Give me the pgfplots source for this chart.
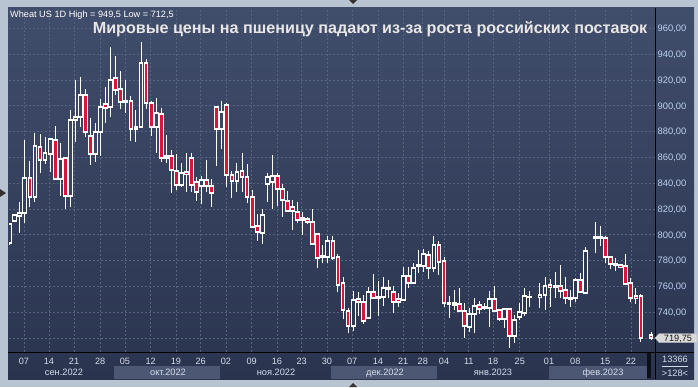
\documentclass[border=0pt]{standalone}
\usepackage{pgfplots}
\pgfplotsset{compat=1.18}
\usepackage{pgfplotstable}
\usepackage{fontspec}
\setmainfont{Liberation Sans}
\definecolor{framec}{HTML}{B9C4D3}
\definecolor{bgtop}{HTML}{404D6B}
\definecolor{bgbot}{HTML}{2A344F}
\definecolor{bandc}{HTML}{4B5773}
\definecolor{gridc}{HTML}{56647F}
\definecolor{candred}{HTML}{DC143C}
\definecolor{holA}{HTML}{3A4663}
\definecolor{holB}{HTML}{35405D}
\definecolor{holC}{HTML}{2D3853}
\definecolor{labc}{HTML}{D4DCEC}
\definecolor{ylabc}{HTML}{BCD0F0}
\definecolor{titlec}{HTML}{E8E6E6}
\pgfplotstableread{
x o h l c
0 793.4 809 792 808
1 810.9 815.5 810.5 815.1
2 814.3 825.2 801.6 816.9
3 817.1 873.5 808.9 843.8
4 843.8 857.2 821.3 829.1
5 829.1 879.2 825.7 868.6
6 867.8 877.9 848.2 857.8
7 857.8 876 855 863.2
8 862.4 874.8 848.9 874
9 873.3 884.3 843 843
10 843 870.9 830.3 858.5
11 859.5 860.5 819.8 829.8
12 829.8 896.7 821.3 889
13 889.2 920 872.2 891.1
14 891.1 922.6 883.8 908.4
15 908.4 913 875.6 879.4
16 876.6 890.3 854.1 862.4
17 862.4 886.9 856.7 879.4
18 879.4 905.1 861.3 899.3
19 901.2 914.2 886.9 898.1
20 898.8 945.3 891.6 920
21 921.3 938.6 908.4 912.2
22 912.8 927 897.3 903
23 902.7 920 894.2 903.7
24 903.7 907.6 873 882.3
25 882.3 896.7 872.2 883.3
26 883.8 949.5 883 933
27 933 936 897.8 902
28 902 903.7 876.6 883.8
29 883.8 905.8 863.2 894.2
30 893.4 898.6 856.7 859.3
31 859.3 877.4 855.4 860.8
32 860.8 865.7 832.2 850.2
33 849.7 862.6 834.7 838.4
34 838.4 855.4 836.8 847.7
35 848.9 863.2 833 847.1
36 859.3 863.2 833.4 838.4
37 840.7 845 826.4 833.4
38 837.6 845.8 823.6 842.2
39 842.2 858 833 837.6
40 837.6 843.3 821.8 832.2
41 898.8 899.5 853.6 881.8
42 881.8 903.7 866.5 895
43 900.6 901.9 837.3 846.4
44 846.4 849.5 828.3 841.9
45 841.9 855.9 833.4 848.7
46 849.5 863.7 833.4 845
47 844.5 854.9 824.9 829.1
48 829.1 834.7 805.8 806.3
49 806.8 816.1 795.4 801.9
50 801.2 820 792.6 815.1
51 839.1 847.7 825.7 844.5
52 841.2 861.9 819.8 845.6
53 845.6 847.7 822.6 835.3
54 835.3 839.1 814 827
55 826.2 834 818 818.7
56 821.6 827 803.7 818.2
57 817.4 825.4 808.9 811.5
58 811.5 817.4 799.8 813
59 812 814 808.4 809.7
60 809.7 820 792.1 792.9
61 800.6 801 774 781.8
62 782.6 792.1 777.9 783.6
63 783 799.1 777.9 795.2
64 795.2 799.1 780.5 781.8
65 783 784.9 755.4 761.1
66 762.4 767.5 734.7 741.7
67 741.2 743.5 723.6 729.3
68 729.3 756.4 725.7 749.2
69 750 755.9 737.3 747.7
70 748.1 753.3 730.6 733.2
71 735.3 759.8 735 755.9
72 755.9 769.4 750 750.8
73 750.8 764.2 737.3 751.5
74 751.5 767 744.8 758.5
75 758 765 751.2 759
76 755.4 760.3 739.1 748.1
77 750 754.6 744.3 748.1
78 749.2 775.3 749 768.1
79 768.1 775.3 758.5 762.4
80 762.4 778.4 761.6 774.5
81 776 788.2 770.2 776.6
82 776 788.8 771.4 784.9
83 784.3 787.4 765.7 774
84 774 799.1 770.9 792.1
85 792.1 795.2 768.8 779.1
86 779.7 783 744.3 746.9
87 746.6 752.6 735.7 747.1
88 746.9 757.2 741.7 745.8
89 746.1 759 740.4 741.2
90 741.2 746.9 720.2 729.5
91 728.8 743 724.9 738.6
92 738.8 750.8 723.6 744.8
93 745.6 748.7 738.6 742.2
94 743 747.4 741.7 744
95 743 756.4 728.8 750.2
96 750.2 760.3 740.4 740.9
97 741.7 742.5 733.2 734.5
98 734.7 743 727.5 742.2
99 742.2 743 712.5 721.8
100 721.8 737.8 715.9 733.7
101 736.5 747.4 734 740.2
102 739.6 758.5 737.1 752.6
103 751.5 756.4 743.8 752
105 751.5 762.4 743.5 753.3
106 753.3 767.5 741.7 760.5
107 761.1 766 744.3 759.5
108 759.5 771.4 750.8 760.3
109 760.3 776.6 750.8 756.7
110 757.2 767 746.1 750.8
111 750.2 757.2 744.3 750.8
112 750.8 766.8 748.1 764.7
113 764.7 770.6 754.7 755.4
114 754.7 790.3 753.9 787.7
116 797.8 809.7 786.1 798.5
117 798.5 807 791.3 797.3
118 797.3 799.3 777.9 782.6
119 782.6 783.6 773.5 777.4
120 776.4 782.2 771.9 777.2
121 776.4 776.6 774 774.8
122 775.8 784.9 761.1 761.6
123 762.4 766.8 747.7 750.8
124 752.6 758.5 746.4 750.8
125 752.6 753.9 717.1 719.8
127 722.1 724.4 718.5 719.8
}\candles
\pgfplotsset{
  candlepart/.style 2 args={only marks, mark=*, mark size=0pt, mark options={draw=none, fill=none},
    error bars/y dir=plus, error bars/y explicit, error bars/error mark=none,
    error bars/error bar style={draw=#1, line width=#2, line cap=butt}},
}
\begin{document}
\begin{tikzpicture}[x=1bp,y=1bp]
\fill[framec] (0,0) rectangle (698,387);
\shade[top color=bgtop, bottom color=bgbot] (8,8) rectangle (694,379);
\fill[bandc] (114,8) rectangle (220,21);
\fill[bandc] (331,8) rectangle (437,21);
\fill[bandc] (549,8) rectangle (647,21);
\fill[black!70!bgbot] (647,9) rectangle (651,34);
\begin{axis}[at={(9bp,35bp)}, anchor=south west, scale only axis,
  width=646bp, height=344bp,
  xmin=-0.14, xmax=127.78, ymin=709.15, ymax=975.81,
  axis line style={draw=none}, major tick length=0pt,
  xtick style={draw=none}, ytick style={draw=none},
  xtick={2.83,7.78,12.75,17.9,22.8,27.9,32.9,37.8,42.8,47.9,52.9,57.8,62.8,67.8,72.9,77.9,81.8,86.0,90.9,95.7,101.0,106.8,112.0,117.9,123.0},
  xticklabels={07,14,21,28,05,12,19,26,02,09,16,23,30,07,14,21,28,04,11,18,25,01,08,15,22},
  ytick={740,760,...,960},
  extra y ticks={720}, extra y tick labels={},
  yticklabel pos=right,
  grid=major,
  major grid style={gridc, dash pattern=on 2bp off 2bp, line width=0.7bp},
  /pgf/number format/assume math mode=true,
  xticklabel style={labc, font=\fontsize{9.2}{11}\selectfont, anchor=base, inner sep=0pt, yshift=-12bp},
  yticklabel style={ylabc, font=\fontsize{9.4}{11}\selectfont, anchor=base west, inner sep=0pt, xshift=2.5bp, yshift=-3.3bp,
    /pgf/number format/.cd, fixed, fixed zerofill, precision=2, use comma, 1000 sep={}},
]
% wicks
\addplot[candlepart={white}{1bp}]
  table[x=x, y=l, y error plus expr={\thisrow{h}-\thisrow{l}}] {\candles};
% body outline
\addplot[candlepart={white}{4.8bp}]
  table[x=x, y expr={min(\thisrow{o},\thisrow{c})-0.8}, y error plus expr={abs(\thisrow{o}-\thisrow{c})+1.6}] {\candles};
% red bodies
\addplot[candlepart={candred}{2.8bp}]
  table[x=x, y expr={\thisrow{c}+0.75}, y error plus expr={(\thisrow{o}>\thisrow{c})*max(\thisrow{o}-\thisrow{c}-1.5,0)}] {\candles};
% hollow bodies
\addplot[candlepart={holA}{2.8bp}]
  table[x=x, y expr={\thisrow{o}+0.75}, y error plus expr={(\thisrow{c}>\thisrow{o})*(\thisrow{c}>=860)*max(\thisrow{c}-\thisrow{o}-1.5,0)}] {\candles};
\addplot[candlepart={holB}{2.8bp}]
  table[x=x, y expr={\thisrow{o}+0.75}, y error plus expr={(\thisrow{c}>\thisrow{o})*(\thisrow{c}<860)*(\thisrow{c}>=800)*max(\thisrow{c}-\thisrow{o}-1.5,0)}] {\candles};
\addplot[candlepart={holC}{2.8bp}]
  table[x=x, y expr={\thisrow{o}+0.75}, y error plus expr={(\thisrow{c}>\thisrow{o})*(\thisrow{c}<800)*max(\thisrow{c}-\thisrow{o}-1.5,0)}] {\candles};
\end{axis}
% axis lines
\draw[black, line width=1bp] (8,35) -- (694,35);
\draw[black, line width=1bp] (655,8) -- (655,379);
% month labels
\begin{scope}[every node/.style={anchor=base, inner sep=0pt, labc, font=\fontsize{9.3}{11}\selectfont}]
\node at (64,11.3) {сен.2022};
\node at (168,11.3) {окт.2022};
\node at (276,11.3) {ноя.2022};
\node at (385,11.3) {дек.2022};
\node at (493,11.3) {янв.2023};
\node at (603,11.3) {фев.2023};
\node at (675,24.5) {13366};
\node at (675,11) {>128<};
\end{scope}
\draw[labc, line width=0.7bp] (662,21) -- (688,21);
% price label
\fill[gray!30, draw=gray!60] (655,49) -- (659,53.5) -- (697,53.5) -- (697,44.5) -- (659,44.5) -- cycle;
\node[anchor=base, inner sep=0pt, black!90, font=\fontsize{9.2}{10}\selectfont] at (678,45.6) {719,75};
% header texts
\node[anchor=base west, inner sep=0pt, white, font=\fontsize{9.2}{11}\selectfont] at (10,369.8) {Wheat US 1D High = 949,5 Low = 712,5};
\node[anchor=base, inner sep=0pt, titlec, font=\fontsize{16.2}{18}\selectfont\bfseries] at (370,353.7) {Мировые цены на пшеницу падают из-за роста российских поставок};
% small triangles
\fill[black!80] (349,387) -- (357,387) -- (353,383) -- cycle;
\fill[black!80] (349,0) -- (357,0) -- (353,4) -- cycle;
\fill[black!80] (0,198) -- (0,190) -- (6,194) -- cycle;
\end{tikzpicture}
\end{document}
